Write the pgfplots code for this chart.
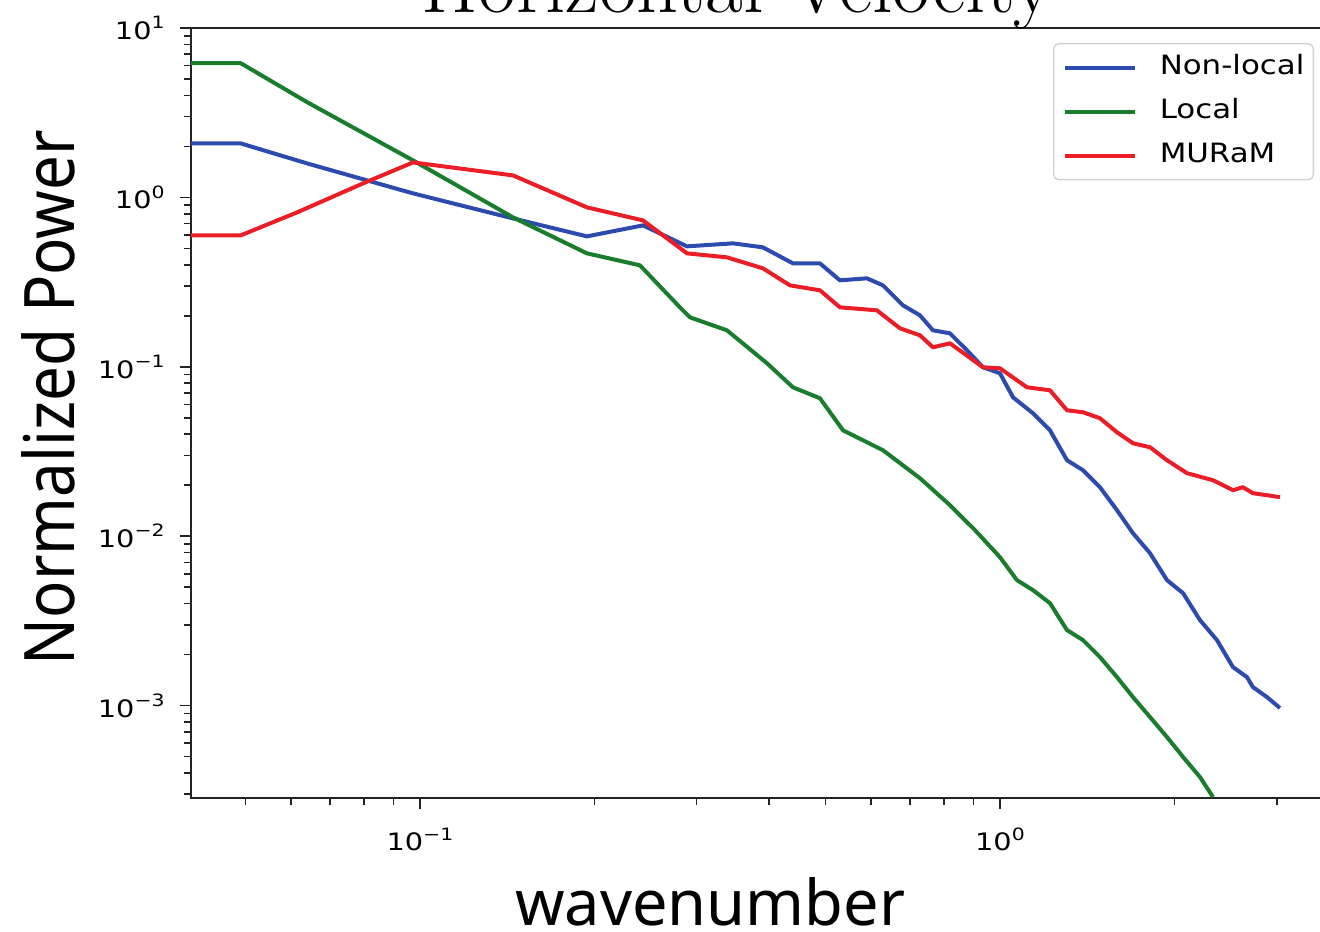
\documentclass[border=0pt]{standalone}
\usepackage{fontspec}
\usepackage{graphicx}
\usepackage{pgfplots}
\pgfplotsset{compat=1.18}

\newfontfamily\tickfont[FakeStretch=1.2]{DejaVu Sans}
\newfontfamily\legfont[FakeStretch=1.16]{DejaVu Sans}
\newfontfamily\labfont{Noto Sans}

\definecolor{cblue}{RGB}{45,75,175}
\definecolor{cgreen}{RGB}{25,125,45}
\definecolor{cred}{RGB}{235,30,40}
\definecolor{spine}{RGB}{35,35,35}

% tick label: 10 with a raised exponent
\newcommand\tl[1]{{\fontsize{12}{14}\tickfont 10\raisebox{0.45em}{\fontsize{8.5}{9}\tickfont #1}}}
\newcommand\legtext[1]{#1\hspace{8pt}}

\begin{document}
\begin{tikzpicture}
\begin{axis}[
  at={(95.5pt,66.5pt)}, anchor=south west,
  scale only axis, width=568.5pt, height=385pt,
  xmode=log, ymode=log,
  xmin=0.0403, xmax=3.678,
  ymin=2.846e-4, ymax=10,
  axis line style={spine, line width=1pt},
  tick align=outside, tick pos=left,
  tick style={spine, line width=0.8pt},
  major tick length=5.5pt, minor tick length=3.5pt,
  xtick={0.1,1}, xticklabels={\tl{−1},\tl{0}},
  minor xtick={0.05,0.06,0.07,0.08,0.09,0.2,0.3,0.4,0.5,0.6,0.7,0.8,0.9,2,3},
  ytick={1e-3,1e-2,1e-1,1,10},
  yticklabels={\tl{−3},\tl{−2},\tl{−1},\tl{0},\tl{1}},
  minor ytick={3e-4,4e-4,5e-4,6e-4,7e-4,8e-4,9e-4,
    2e-3,3e-3,4e-3,5e-3,6e-3,7e-3,8e-3,9e-3,
    2e-2,3e-2,4e-2,5e-2,6e-2,7e-2,8e-2,9e-2,
    0.2,0.3,0.4,0.5,0.6,0.7,0.8,0.9,2,3,4,5,6,7,8,9},
  xticklabel style={anchor=base, inner sep=0pt, yshift=-21pt},
  yticklabel style={anchor=east, inner sep=0pt, xshift=-7.5pt},
  xlabel={\resizebox{195pt}{24pt}{\labfont wavenumber}},
  ylabel={\resizebox{267.5pt}{26.5pt}{\labfont Normalized Power}},
  xlabel style={at={(rel axis cs:0.4565,0)}, anchor=base, inner sep=0pt, yshift=-63.5pt},
  ylabel style={at={(rel axis cs:-0.12533,0.520)}, anchor=center, inner sep=0pt},
  legend style={at={(rel axis cs:1,1)}, anchor=north east, xshift=-7pt, yshift=-7.5pt,
    draw={rgb,255:red,210;green,210;blue,210}, line width=0.7pt, rounded corners=2.5pt,
    fill=white, inner xsep=4.5pt, inner ysep=5.5pt, row sep=9pt, column sep=11.5pt,
    font=\fontsize{13.3}{16}\legfont,
    nodes={inner sep=0pt, text height=10pt, text depth=3pt}},
  legend cell align=left,
  legend image code/.code={\draw[#1, sharp corners] (0pt,0pt) -- (35pt,0pt);},
  every axis plot/.append style={line width=2pt, line join=round},
]
% Non-local model
\addplot[cblue] coordinates {
(0.0403,2.083) (0.0491,2.083) (0.0639,1.587) (0.0973,1.056) (0.1447,0.7518)
(0.1941,0.5887) (0.2424,0.6836) (0.2887,0.5140) (0.3465,0.5353) (0.3903,0.5071)
(0.4396,0.4079) (0.4894,0.4079) (0.5298,0.3239) (0.5897,0.3328) (0.6285,0.3025)
(0.6804,0.2306) (0.7279,0.2012) (0.7664,0.1642) (0.8200,0.1576) (0.8773,0.1251)
(0.9348,0.09932) (1.0,0.09155) (1.0530,0.06609) (1.1399,0.05317) (1.2195,0.04220)
(1.3048,0.02808) (1.3905,0.02452) (1.4873,0.01945) (1.5912,0.01424) (1.6956,0.01041)
(1.8143,0.007937) (1.9409,0.005500) (2.0686,0.004611) (2.2122,0.003195) (2.3666,0.002435)
(2.5215,0.001687) (2.6657,0.001473) (2.7299,0.001285) (2.8865,0.001122) (3.0393,0.0009666)
};
% Local model
\addplot[cgreen] coordinates {
(0.0403,6.198) (0.0491,6.198) (0.0639,3.650) (0.0973,1.6532) (0.1447,0.7622)
(0.1941,0.4674) (0.2395,0.3971) (0.2807,0.2244) (0.2921,0.1959) (0.3383,0.1642)
(0.3966,0.1049) (0.4396,0.07568) (0.4894,0.06519) (0.5362,0.04220) (0.6285,0.03216)
(0.7279,0.02199) (0.8200,0.01524) (0.9057,0.01085) (1.0,0.007517) (1.0698,0.005500)
(1.1399,0.004803) (1.2195,0.004024) (1.3048,0.002790) (1.3905,0.002435) (1.4873,0.001932)
(1.5912,0.001473) (1.6956,0.001122) (1.8143,0.0008553) (1.9409,0.0006519) (2.0686,0.0004968)
(2.2122,0.0003786) (2.3293,0.0002885)
};
% MURaM reference
\addplot[cred] coordinates {
(0.0403,0.5968) (0.0491,0.5968) (0.0614,0.8155) (0.0798,1.2095) (0.0973,1.6088)
(0.1447,1.3483) (0.1941,0.8731) (0.2424,0.7316) (0.2887,0.4674) (0.3383,0.4426)
(0.3903,0.3813) (0.4344,0.3025) (0.4894,0.2828) (0.5298,0.2244) (0.6137,0.2154)
(0.6724,0.1687) (0.7279,0.1534) (0.7664,0.1303) (0.8200,0.1376) (0.9348,0.09932)
(1.0,0.09798) (1.1130,0.07568) (1.2195,0.07266) (1.3048,0.05538) (1.3905,0.05390)
(1.4873,0.04969) (1.5912,0.04107) (1.6956,0.03537) (1.8143,0.03350) (1.9409,0.02808)
(2.1017,0.02353) (2.3293,0.02140) (2.5215,0.01868) (2.6237,0.01945) (2.7299,0.01794)
(2.8865,0.01745) (3.0393,0.01699)
};
\legend{\legtext{Non-local},\legtext{Local},\legtext{MURaM}}
\end{axis}
\node[anchor=base, inner sep=0pt, font=\fontsize{41}{41}\selectfont] at (368.75pt,459pt) {Horizontal Velocity};
\pgfresetboundingbox
\useasboundingbox (0,0) rectangle (660pt,465.5pt);
\end{tikzpicture}
\end{document}
